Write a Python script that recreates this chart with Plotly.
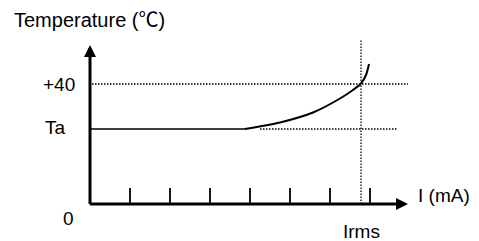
import plotly.graph_objects as go

# ---- data (units: x = scale divisions of current, y = temperature in degC) ----
tick_x = [1, 2, 3, 4, 5, 6, 7]
tick_len = 5.3
ta_value = 25
t40_value = 40
irms_x = 6.775

curve_x = [0, 3.875, 4.75, 5.575, 6.25, 6.575, 6.775, 6.9, 6.975]
curve_y = [25, 25, 27.17, 30.5, 35.17, 38, 40.17, 43, 46.67]

ta_dot_x = [4.25, 7.675]
t40_dot_x = [0.05, 7.95]
irms_dot_y = [0, 55]

x_axis_end = 7.95
y_axis_end = 53

# page body has an 8px margin, so the figure covers the reference from (8, 8)
x_range = [-2.05, 9.725]
y_range = [-12.333, 65.333]

FONT = "Liberation Sans, Arial, Noto Sans CJK SC, sans-serif"
FS = 19
DOT = "1.5px,1.5px"

fig = go.Figure()

# ticks
tx, ty = [], []
for t in tick_x:
    tx += [t, t, None]
    ty += [0, tick_len, None]
fig.add_trace(go.Scatter(x=tx, y=ty, mode="lines",
                         line=dict(color="black", width=1.8), hoverinfo="skip"))

# dotted reference lines
fig.add_trace(go.Scatter(x=t40_dot_x, y=[t40_value, t40_value], mode="lines",
                         line=dict(color="black", width=1.3, dash=DOT)))
fig.add_trace(go.Scatter(x=ta_dot_x, y=[ta_value, ta_value], mode="lines",
                         line=dict(color="black", width=1.3, dash=DOT)))
fig.add_trace(go.Scatter(x=[irms_x, irms_x], y=irms_dot_y, mode="lines",
                         line=dict(color="black", width=1.3, dash=DOT)))

# curve: flat part straight, rising part smoothed
fig.add_trace(go.Scatter(x=curve_x[:2], y=curve_y[:2], mode="lines",
                         line=dict(color="black", width=1.6)))
fig.add_trace(go.Scatter(x=curve_x[1:], y=curve_y[1:], mode="lines",
                         line=dict(color="black", width=2, shape="spline", smoothing=0.8)))

# axes with arrows
fig.add_annotation(x=0, y=y_axis_end, ax=0, ay=-0.5, xref="x", yref="y",
                   axref="x", ayref="y", text="", showarrow=True,
                   arrowhead=2, arrowsize=0.8, arrowwidth=3, arrowcolor="black", standoff=0)
fig.add_annotation(x=x_axis_end, y=0, ax=-0.04, ay=0, xref="x", yref="y",
                   axref="x", ayref="y", text="", showarrow=True,
                   arrowhead=2, arrowsize=0.8, arrowwidth=3, arrowcolor="black", standoff=0)

def label(text, x, y, xanchor="center", size=FS):
    fig.add_annotation(x=x, y=y, xref="x", yref="y", text=text, showarrow=False,
                       xanchor=xanchor, yanchor="middle",
                       font=dict(family=FONT, size=size, color="black"))

label("Temperature (℃)", -1.96, 61.3, "left", 20)
label("+40", -0.33, t40_value, "right")
label("Ta", -0.55, ta_value + 0.5, "right")
label("0", -0.55, -4.7)
label("Irms", irms_x, -9.1)
label("I (mA)", 8.15, 2.7, "left")

fig.update_layout(
    width=471, height=233,
    margin=dict(l=0, r=0, t=0, b=0),
    paper_bgcolor="white", plot_bgcolor="white",
    showlegend=False,
    xaxis=dict(range=x_range, visible=False, fixedrange=True),
    yaxis=dict(range=y_range, visible=False, fixedrange=True),
)

fig.write_html("out.html")
